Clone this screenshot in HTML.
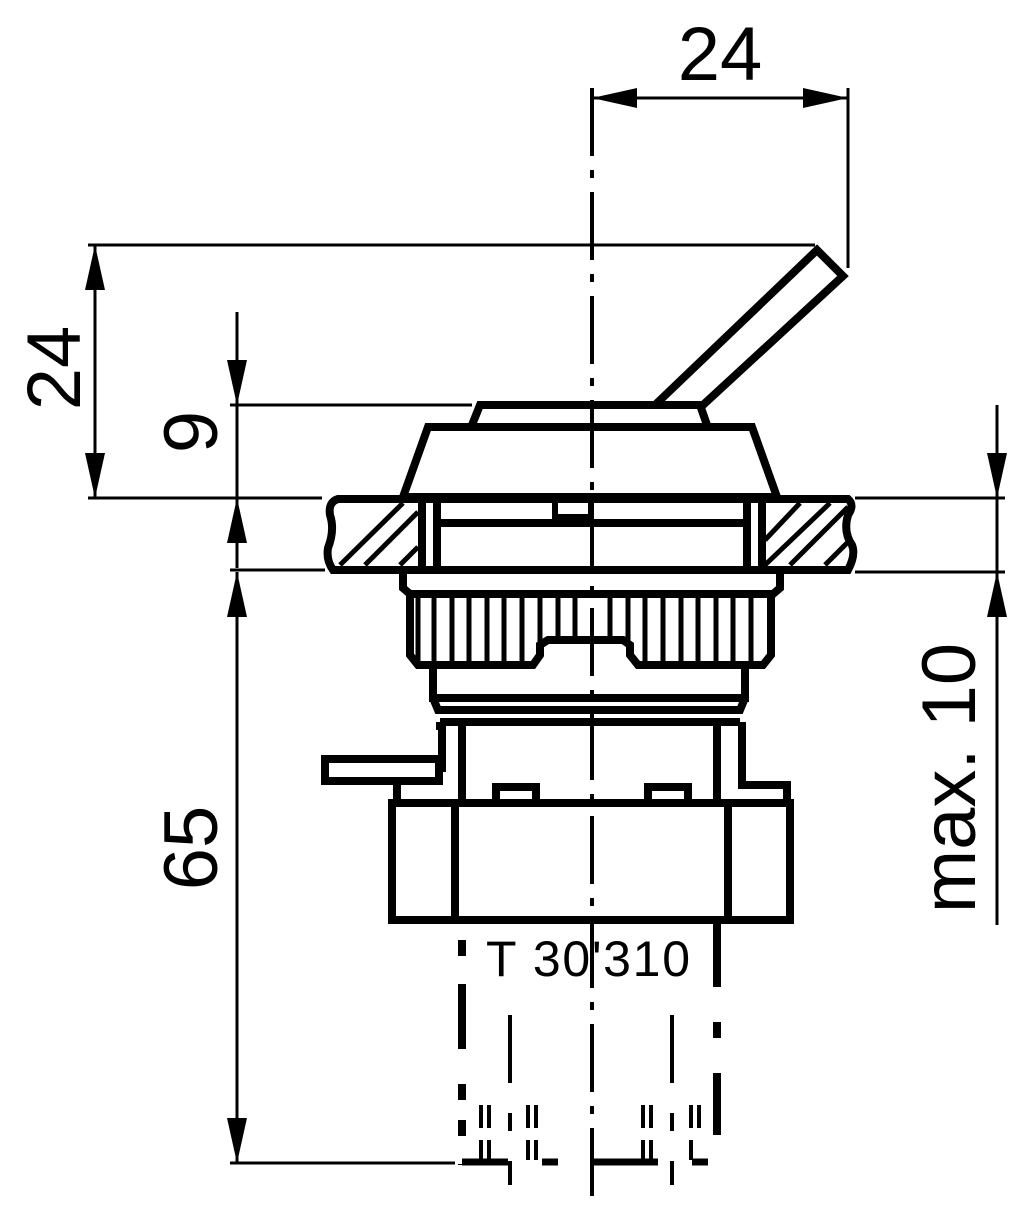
<!DOCTYPE html>
<html><head><style>html,body{margin:0;padding:0;background:#fff}svg{display:block}</style></head><body>
<svg width="1009" height="1208" viewBox="0 0 1009 1208" xmlns="http://www.w3.org/2000/svg">
<g fill="none" stroke="#000" stroke-width="8" stroke-linejoin="miter">
<polygon points="655,405 817,250 843,276 703,405"/>
<polyline points="472,425 480,405 700,405 707,425"/>
<polygon points="428,427 752,427 777,497 403,497"/>
<path d="M338,499 L848,499 Q855,505 848,515 Q843,532 852,545 Q856,555 848,570 L333,570 Q326,560 328,548 Q335,530 330,515 Q328,502 338,499 Z"/>
<line x1="422" y1="499" x2="422" y2="570"/>
<line x1="437" y1="499" x2="437" y2="570"/>
<line x1="747" y1="499" x2="747" y2="570"/>
<line x1="762" y1="499" x2="762" y2="570"/>
<line x1="437" y1="523" x2="747" y2="523"/>
<rect x="555" y="499" width="36" height="18" stroke-width="6"/>
<polyline points="403,572 403,588 410,594 773,594 780,588 780,572"/>
<path d="M410,594 L410,655 L418,665 L533,665 L540,655 L540,645 L548,640 L623,640 L630,645 L630,655 L638,665 L763,665 L771,655 L771,594"/>
<polyline points="433,665 433,698 745,698 745,665"/>
<polyline points="433,698 438,710 740,710 745,698"/>
<line x1="440" y1="722" x2="740" y2="722"/>
<polyline points="440,722 440,726 442,726 442,772"/>
<line x1="462" y1="722" x2="462" y2="803"/>
<line x1="717" y1="722" x2="717" y2="803"/>
<polyline points="742,722 742,785 787,785 787,803"/>
<polyline points="397,803 397,785"/>
<rect x="325" y="759" width="114" height="22"/>
<rect x="496" y="787" width="40" height="16"/>
<rect x="648" y="787" width="40" height="16"/>
<rect x="392" y="803" width="398" height="117"/>
<line x1="455" y1="803" x2="455" y2="920"/>
<line x1="728" y1="803" x2="728" y2="920"/>
</g>
<g stroke="#000" stroke-width="5">
<line x1="340" y1="565" x2="403" y2="503"/>
<line x1="365" y1="565" x2="418" y2="512"/>
<line x1="400" y1="565" x2="418" y2="547"/>
<line x1="765" y1="540" x2="800" y2="503"/>
<line x1="765" y1="565" x2="830" y2="503"/>
<line x1="790" y1="565" x2="848" y2="507"/>
<line x1="825" y1="565" x2="847" y2="543"/>
</g>
<g stroke="#000" stroke-width="5">
<line x1="418" y1="597" x2="418" y2="662"/><line x1="434" y1="597" x2="434" y2="662"/>
<line x1="452" y1="597" x2="452" y2="662"/><line x1="469" y1="597" x2="469" y2="662"/>
<line x1="487" y1="597" x2="487" y2="662"/><line x1="504" y1="597" x2="504" y2="662"/>
<line x1="522" y1="597" x2="522" y2="662"/><line x1="540" y1="597" x2="540" y2="655"/>
<line x1="558" y1="597" x2="558" y2="637"/><line x1="575" y1="597" x2="575" y2="637"/>
<line x1="610" y1="597" x2="610" y2="637"/><line x1="628" y1="597" x2="628" y2="645"/>
<line x1="645" y1="597" x2="645" y2="662"/><line x1="663" y1="597" x2="663" y2="662"/>
<line x1="681" y1="597" x2="681" y2="662"/><line x1="698" y1="597" x2="698" y2="662"/>
<line x1="716" y1="597" x2="716" y2="662"/><line x1="733" y1="597" x2="733" y2="662"/>
<line x1="751" y1="597" x2="751" y2="662"/>
</g>
<line x1="592" y1="88" x2="592" y2="1205" stroke="#000" stroke-width="4" stroke-dasharray="68,14,8,14"/>
<g stroke="#000">
<line x1="462" y1="940" x2="462" y2="1165" stroke-width="8" stroke-dasharray="16,28,65,35,16,20"/>
<line x1="717" y1="922" x2="717" y2="1135" stroke-width="8" stroke-dasharray="65,35,16,35"/>
<line x1="510" y1="1015" x2="510" y2="1185" stroke-width="4" stroke-dasharray="68,30,18,30"/>
<line x1="672" y1="1015" x2="672" y2="1185" stroke-width="4" stroke-dasharray="68,30,18,30"/>
<g stroke-width="4">
<line x1="481" y1="1105" x2="481" y2="1128"/><line x1="489" y1="1105" x2="489" y2="1128"/>
<line x1="481" y1="1140" x2="481" y2="1160"/><line x1="489" y1="1140" x2="489" y2="1160"/>
<line x1="528" y1="1105" x2="528" y2="1128"/><line x1="536" y1="1105" x2="536" y2="1128"/>
<line x1="528" y1="1140" x2="528" y2="1160"/><line x1="536" y1="1140" x2="536" y2="1160"/>
<line x1="643" y1="1105" x2="643" y2="1128"/><line x1="651" y1="1105" x2="651" y2="1128"/>
<line x1="643" y1="1140" x2="643" y2="1160"/><line x1="651" y1="1140" x2="651" y2="1160"/>
<line x1="691" y1="1105" x2="691" y2="1128"/><line x1="699" y1="1105" x2="699" y2="1128"/>
<line x1="691" y1="1140" x2="691" y2="1160"/>
</g>
<line x1="462" y1="1162" x2="508" y2="1162" stroke-width="7"/>
<line x1="542" y1="1162" x2="558" y2="1162" stroke-width="7"/>
<line x1="592" y1="1162" x2="658" y2="1162" stroke-width="7"/>
<line x1="692" y1="1162" x2="708" y2="1162" stroke-width="7"/>
</g>
<g stroke="#000" stroke-width="3" fill="none">
<line x1="592" y1="98" x2="848" y2="98"/>
<line x1="848" y1="88" x2="848" y2="268"/>
<line x1="88" y1="245" x2="815" y2="245"/>
<line x1="95" y1="245" x2="95" y2="498"/>
<line x1="88" y1="498" x2="322" y2="498"/>
<line x1="230" y1="405" x2="472" y2="405"/>
<line x1="237" y1="312" x2="237" y2="568"/>
<line x1="230" y1="570" x2="325" y2="570"/>
<line x1="237" y1="572" x2="237" y2="1163"/>
<line x1="230" y1="1163" x2="455" y2="1163"/>
<line x1="855" y1="498" x2="1005" y2="498"/>
<line x1="855" y1="572" x2="1005" y2="572"/>
<line x1="997" y1="405" x2="997" y2="925"/>
</g>
<g fill="#000">
<polygon points="592,98 637,88 637,108"/>
<polygon points="848,98 803,88 803,108"/>
<polygon points="95,245 85,290 105,290"/>
<polygon points="95,498 85,453 105,453"/>
<polygon points="237,405 227,360 247,360"/>
<polygon points="237,498 227,543 247,543"/>
<polygon points="237,572 227,617 247,617"/>
<polygon points="237,1163 227,1118 247,1118"/>
<polygon points="997,498 987,453 1007,453"/>
<polygon points="997,572 987,617 1007,617"/>
</g>
<g font-family="'Liberation Sans', sans-serif" fill="#000">
<text x="720" y="80" font-size="76" text-anchor="middle">24</text>
<text transform="translate(80,368) rotate(-90)" font-size="76" text-anchor="middle">24</text>
<text transform="translate(217,432) rotate(-90)" font-size="76" text-anchor="middle">9</text>
<text transform="translate(217,848) rotate(-90)" font-size="76" text-anchor="middle">65</text>
<text transform="translate(975,778) rotate(-90)" font-size="76" text-anchor="middle">max. 10</text>
<text x="486" y="976" font-size="50" textLength="204" lengthAdjust="spacing">T 30'310</text>
</g>
</svg>
</body></html>
